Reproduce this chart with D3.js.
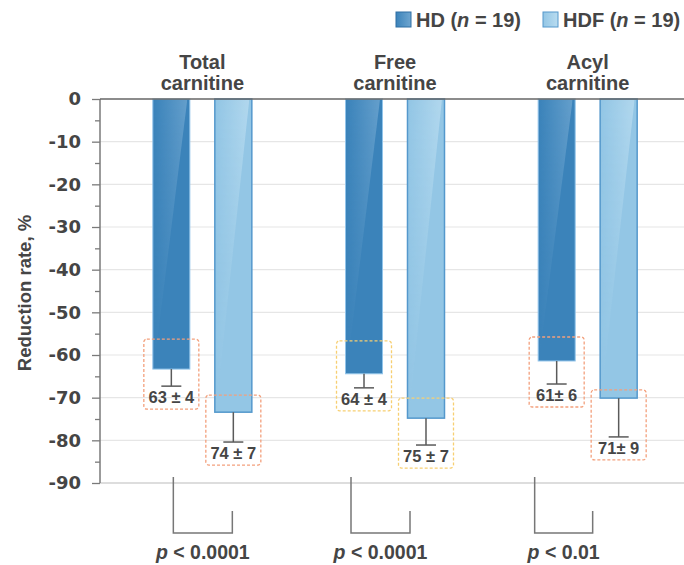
<!DOCTYPE html>
<html>
<head>
<meta charset="utf-8">
<script src="https://cdn.jsdelivr.net/npm/d3@7"></script>
<style>
  html, body { margin: 0; padding: 0; background: #fff; }
  svg { display: block; }
</style>
</head>
<body>
<svg id="chart" width="684" height="565"></svg>
<script>
// ---------- data ----------
const categories = ["Total carnitine", "Free carnitine", "Acyl carnitine"];
const categoryLines = [["Total", "carnitine"], ["Free", "carnitine"], ["Acyl", "carnitine"]];
const series = ["HD", "HDF"];
const hdValues = [-63.3, -64.4, -61.4];
const hdfValues = [-73.4, -74.8, -70.1];
const hdErrors = [4.0, 3.3, 5.4];
const hdfErrors = [7.0, 6.3, 9.1];
const hdLabels = ["63 \u00b1 4", "64 \u00b1 4", "61\u00b1 6"];
const hdfLabels = ["74 \u00b1 7", "75 \u00b1 7", "71\u00b1 9"];
const pValues = ["< 0.0001", "< 0.0001", "< 0.01"];
const yMajorTicks = [0, -10, -20, -30, -40, -50, -60, -70, -80, -90];
const yMinorTicks = [-5, -15, -25, -35, -45, -55, -65, -75, -85];

// ---------- style / layout ----------
const boxColors = ["#f3a07c", "#f7cf72", "#f3a07c"];
const bracketOffsets = [[-29, 30], [-44, 15], [-53, 5]];
const textColor = "#454545";
const W = 684, H = 565;

const svg = d3.select("#chart");
const defs = svg.append("defs");

function addGrad(id, base, light) {
  const g = defs.append("linearGradient").attr("id", id)
    .attr("x1", 0).attr("y1", 0).attr("x2", 1).attr("y2", 0);
  g.append("stop").attr("offset", "0%").attr("stop-color", base);
  g.append("stop").attr("offset", "100%").attr("stop-color", light);
}
addGrad("gHD", "#3b83ba", "#6fa6d0");
addGrad("gHDF", "#93c6e5", "#b9dcf0");
const fade = defs.append("linearGradient").attr("id", "fade")
  .attr("x1", 0).attr("y1", 0).attr("x2", 0).attr("y2", 1);
fade.append("stop").attr("offset", "0%").attr("stop-color", "#fff").attr("stop-opacity", 1);
fade.append("stop").attr("offset", "100%").attr("stop-color", "#fff").attr("stop-opacity", 0.35);
const mask = defs.append("mask").attr("id", "fadeMask").attr("maskContentUnits", "objectBoundingBox");
mask.append("rect").attr("x", 0).attr("y", 0).attr("width", 1).attr("height", 1).attr("fill", "url(#fade)");

const seriesStyle = {
  HD: { fill: "#3b83ba", stroke: "#92c4ea", sw: 1, grad: "url(#gHD)" },
  HDF: { fill: "#93c6e5", stroke: "#5498cc", sw: 1.5, grad: "url(#gHDF)" }
};

// ---------- scales ----------
const y = d3.scaleLinear().domain([0, -90]).range([99, 483]);
const x0 = d3.scaleBand().domain(categories).range([106, 684]).padding(0);
const x1 = d3.scaleBand().domain(series).range([-49.5, 49.5]).paddingInner(0.403).paddingOuter(0);
const cx = (ci) => x0(categories[ci]) + x0.bandwidth() / 2;

// ---------- gridlines ----------
svg.append("g").selectAll("line").data(yMajorTicks.slice(1)).join("line")
  .attr("x1", 100).attr("x2", W)
  .attr("y1", d => y(d)).attr("y2", d => y(d))
  .attr("stroke", d => d === -90 ? "#dddddd" : "#e6e6e6")
  .attr("stroke-width", d => d === -90 ? 2 : 1.2);

// ---------- axis ----------
const axis = svg.append("g").attr("transform", "translate(100,0)")
  .call(d3.axisLeft(y).tickValues(yMajorTicks).tickSize(8).tickPadding(11).tickFormat(d => String(d)));
axis.select(".domain").remove();
axis.selectAll(".tick line").attr("stroke", "#7a7a7a").attr("stroke-width", 1.3);
axis.selectAll(".tick text")
  .attr("fill", textColor)
  .style("font-family", "'DejaVu Sans', sans-serif")
  .style("font-weight", "bold")
  .style("font-size", "18px");
svg.append("g").attr("transform", "translate(100,0)")
  .call(d3.axisLeft(y).tickValues(yMinorTicks).tickSize(5).tickFormat(""))
  .call(g => g.select(".domain").remove())
  .selectAll(".tick line").attr("stroke", "#7a7a7a").attr("stroke-width", 1.3);
svg.append("line").attr("x1", 100).attr("x2", 100).attr("y1", y(0)).attr("y2", y(-90))
  .attr("stroke", "#7a7a7a").attr("stroke-width", 1.5);

// y-axis title
svg.append("text")
  .attr("transform", `translate(31,${(y(0) + y(-90)) / 2 + 2}) rotate(-90)`)
  .attr("text-anchor", "middle")
  .attr("fill", textColor)
  .style("font-family", "'Liberation Sans', Arial, sans-serif")
  .style("font-weight", "bold").style("font-size", "18.5px")
  .text("Reduction rate, %");

// ---------- bars ----------
const barData = [];
categories.forEach((c, i) => {
  barData.push({ ci: i, s: "HD", v: hdValues[i], e: hdErrors[i], label: hdLabels[i] });
  barData.push({ ci: i, s: "HDF", v: hdfValues[i], e: hdfErrors[i], label: hdfLabels[i] });
});
const bw = x1.bandwidth();
const barX = d => cx(d.ci) + x1(d.s);
const barCx = d => barX(d) + bw / 2;

const bars = svg.append("g").selectAll("g").data(barData).join("g");
bars.append("rect")
  .attr("x", barX).attr("y", y(0))
  .attr("width", bw).attr("height", d => y(d.v) - y(0))
  .attr("fill", d => seriesStyle[d.s].fill)
  .attr("stroke", d => seriesStyle[d.s].stroke)
  .attr("stroke-width", d => seriesStyle[d.s].sw);
// glossy highlight
bars.append("path")
  .attr("d", d => {
    const x = barX(d), t = y(0), h = y(d.v) - y(0);
    const tr = x + bw * 0.93;
    const br = Math.max(x + 1, tr - 0.135 * h);
    return `M${x + 1},${t + 1}L${tr},${t + 1}L${br},${t + h - 1}L${x + 1},${t + h - 1}Z`;
  })
  .attr("fill", d => seriesStyle[d.s].grad)
  .attr("mask", "url(#fadeMask)")
  .attr("opacity", 0.8);

// error bars
bars.append("line")
  .attr("x1", barCx).attr("x2", barCx)
  .attr("y1", d => y(d.v)).attr("y2", d => y(d.v - d.e))
  .attr("stroke", "#5a5a5a").attr("stroke-width", 1.5);
bars.append("line")
  .attr("x1", d => barCx(d) - 10).attr("x2", d => barCx(d) + 10)
  .attr("y1", d => y(d.v - d.e)).attr("y2", d => y(d.v - d.e))
  .attr("stroke", "#5a5a5a").attr("stroke-width", 1.5);

// dashed label boxes
bars.append("rect")
  .attr("x", d => barCx(d) - 27.5)
  .attr("y", d => y(d.v - d.e) + 23 - 70)
  .attr("width", 55).attr("height", 70)
  .attr("rx", 3)
  .attr("fill", "none")
  .attr("stroke", d => boxColors[d.ci])
  .attr("stroke-width", 1.3)
  .attr("stroke-dasharray", "3,2");
bars.append("text")
  .attr("x", barCx).attr("y", d => y(d.v - d.e) + 17)
  .attr("text-anchor", "middle")
  .attr("fill", textColor)
  .style("font-family", "'Liberation Sans', Arial, sans-serif")
  .style("font-weight", "bold").style("font-size", "16.5px")
  .text(d => d.label);

// top baseline
svg.append("line").attr("x1", 100).attr("x2", W).attr("y1", y(0)).attr("y2", y(0))
  .attr("stroke", "#666").attr("stroke-width", 1.5);

// ---------- category labels ----------
categories.forEach((c, i) => {
  const t = svg.append("text")
    .attr("text-anchor", "middle")
    .attr("fill", textColor)
    .style("font-family", "'Liberation Sans', Arial, sans-serif")
    .style("font-weight", "bold").style("font-size", "20px");
  categoryLines[i].forEach((ln, k) => {
    t.append("tspan").attr("x", cx(i)).attr("y", 69 + k * 21).text(ln);
  });
});

// ---------- brackets & p-values ----------
categories.forEach((c, i) => {
  const lx = cx(i) + bracketOffsets[i][0];
  const rx = cx(i) + bracketOffsets[i][1];
  svg.append("path")
    .attr("d", `M${lx},477L${lx},533L${rx},533L${rx},511`)
    .attr("fill", "none").attr("stroke", "#777").attr("stroke-width", 1.5);
  const t = svg.append("text")
    .attr("x", (lx + rx) / 2).attr("y", 559)
    .attr("text-anchor", "middle")
    .attr("fill", textColor)
    .style("font-family", "'Liberation Sans', Arial, sans-serif")
    .style("font-weight", "bold").style("font-size", "19.5px");
  t.append("tspan").style("font-style", "italic").text("p");
  t.append("tspan").text(" " + pValues[i]);
});

// ---------- legend ----------
const legendX = [396, 543];
series.forEach((s, i) => {
  const st = seriesStyle[s];
  svg.append("rect").attr("x", legendX[i]).attr("y", 12).attr("width", 15).attr("height", 15)
    .attr("fill", st.grad).attr("stroke", s === "HD" ? "#2f6fa3" : "#5498cc").attr("stroke-width", 1);
  const t = svg.append("text").attr("x", legendX[i] + 20).attr("y", 27)
    .attr("fill", textColor)
    .style("font-family", "'Liberation Sans', Arial, sans-serif")
    .style("font-weight", "bold").style("font-size", "20px");
  t.append("tspan").text(s + " (");
  t.append("tspan").style("font-style", "italic").text("n");
  t.append("tspan").text(" = 19)");
});
</script>
</body>
</html>
